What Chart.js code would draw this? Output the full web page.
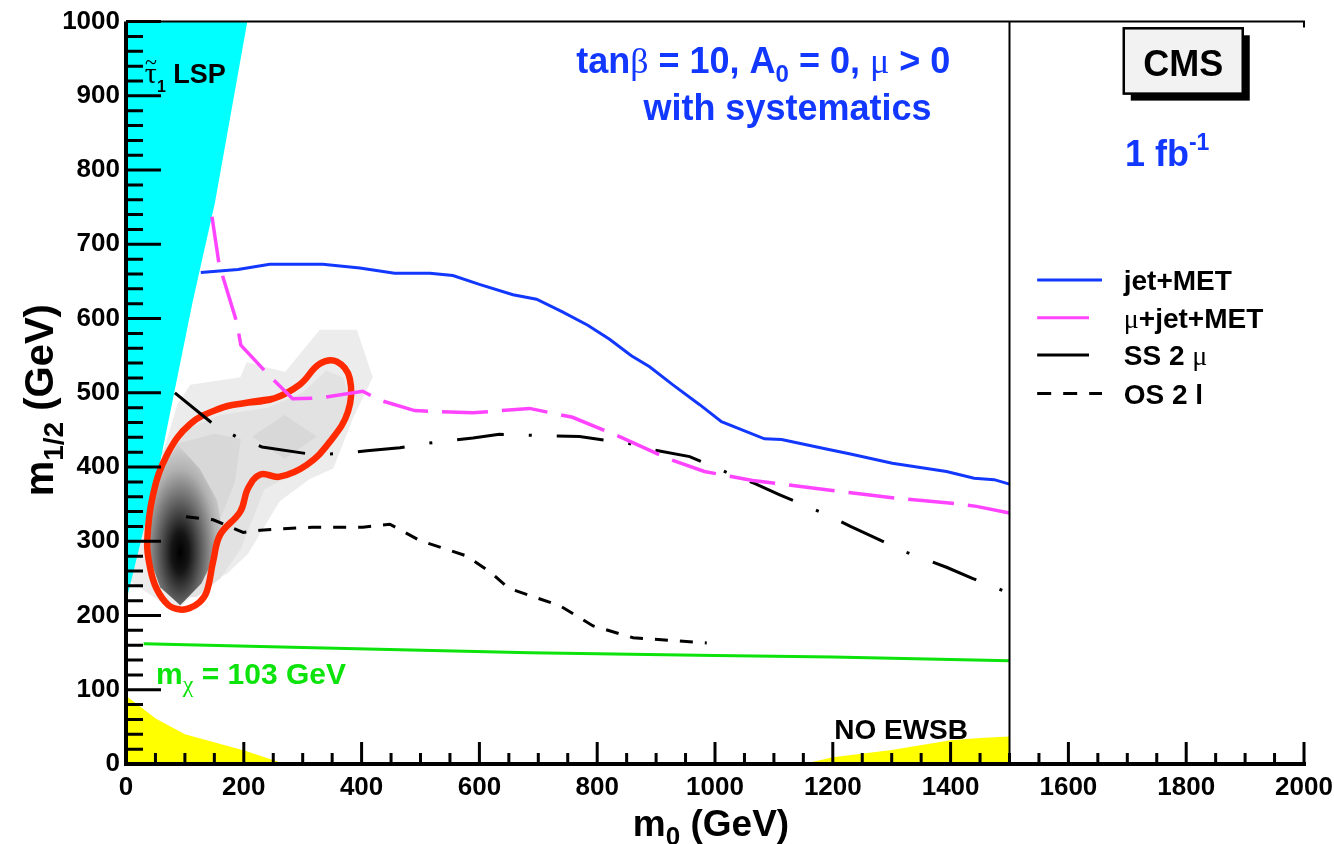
<!DOCTYPE html>
<html>
<head>
<meta charset="utf-8">
<script src="https://cdn.jsdelivr.net/npm/chart.js@4.4.1/dist/chart.umd.min.js"></script>
<style>
    html, body { margin: 0; padding: 0; background: #fff; }
    #contenitore { width: 1334px; height: 844px; }
</style>
</head>
<body>
<div id="contenitore"><canvas id="graficoPiano"></canvas></div>
<script>
// curve di scoperta nel piano (m0, m1/2), coppie [m0, m1/2] in GeV
const jetMet = [[127,662],[190,666],[244,673],[334,673],[397,668],[456,661],[516,661],[555,658],[600,646],[657,632],[697,626],[741,609],[784,591],[821,572],[858,550],[889,535],[928,511],[974,484],[1011,461],[1084,438],[1113,437],[1191,424],[1228,418],[1301,405],[1393,394],[1440,385],[1474,383],[1500,377]];
const muJetMet = [[146,737],[158,673],[188,595],[195,564],[241,525],[283,492],[329,493],[402,502],[431,490],[490,476],[589,473],[685,479],[758,467],[838,441],[918,412],[982,394],[1064,382],[1172,371],[1245,364],[1308,358],[1393,352],[1444,347],[1500,338]];
const ss2mu = [[83,500],[148,458],[187,441],[231,427],[316,417],[361,418],[409,422],[465,426],[494,430],[541,435],[589,439],[634,444],[672,443],[721,442],[770,441],[852,432],[897,423],[957,414],[1025,391],[1067,378],[1109,363],[1189,336],[1230,320],[1274,304],[1318,287],[1350,278],[1393,265],[1437,250],[1500,230]];
const os2l = [[102,333],[148,329],[199,312],[228,315],[316,319],[402,319],[448,323],[499,301],[579,280],[621,257],[649,237],[737,213],[793,186],[861,170],[986,163]];
const limiteChargino = [[30,162],[300,157],[686,150],[1000,146],[1200,144],[1500,139]];

// regioni escluse
const bordoStauLsp = [[0,228],[3,228],[57,403],[113,622],[151,756],[206,1000]];
const bordoGialloSx = [[0,92],[51,61],[100,40],[202,18],[270,0]];
const bordoNoEwsb = [[1150,0],[1200,9],[1300,19],[1400,32],[1450,35],[1500,37]];
const fineScansione = [[1500,0],[1500,1000]];

// contorno del punto di riferimento (chiuso, parte e torna sul lato alto)
const contornoRosso = [[200,486],[250,492],[295,511],[329,539],[358,542],[380,519],[377,475],[346,434],[307,403],[261,387],[228,390],[207,371],[194,340],[160,309],[148,273],[137,232],[125,218],[108,210],[92,208],[72,214],[52,236],[41,264],[36,300],[46,363],[70,417],[109,458],[160,479],[200,486],[250,492]];
const densitaChiara = [[0,250],[87,484],[109,511],[194,521],[205,541],[270,528],[329,585],[392,585],[419,521],[385,465],[352,398],[312,384],[261,354],[207,283],[171,256],[143,246],[110,225],[92,212],[60,218]];
const densitaMedia = [[60,420],[100,450],[160,470],[240,480],[300,500],[340,530],[370,520],[380,480],[360,440],[320,405],[270,385],[235,370],[215,330],[195,290],[160,250],[120,225],[80,225]];
const densitaScura1 = [[214,441],[269,470],[324,441],[269,411]];
const densitaScura2 = [[80,430],[150,445],[195,438],[185,380],[160,330],[140,300]];
const nucleo = [[88,430],[125,398],[155,355],[162,320],[152,282],[128,243],[92,214],[58,238],[38,282],[42,330],[56,392]];
const centroNucleo = [92, 285];

const FONT = '"Liberation Sans", Arial, sans-serif';
const SERIF = '"Liberation Serif", "DejaVu Serif", serif';
const BLU = '#1238ff';
const MAGENTA = '#ff44ff';
const VERDE = '#0be30b';

function grassetto(n) { return 'bold ' + n + 'px ' + FONT; }
function simbolo(n) { return n + 'px ' + SERIF; }

function serie(dati, colore, spessore, tratteggio, ordine) {
    return {
        data: dati,
        showLine: true,
        borderColor: colore,
        borderWidth: spessore,
        borderDash: tratteggio || [],
        pointRadius: 0,
        fill: false,
        tension: 0,
        order: ordine
    };
}

function area(dati, colore, riempi, ordine) {
    return {
        data: dati,
        showLine: true,
        borderWidth: 0,
        borderColor: colore,
        backgroundColor: colore,
        pointRadius: 0,
        fill: riempi,
        order: ordine
    };
}

// testo composto da pezzi con font e spostamento verticale diversi
function scriviRicco(ctx, x, y, pezzi, allinea) {
    let larg = 0;
    pezzi.forEach(p => { ctx.font = p[1]; larg += ctx.measureText(p[0]).width; });
    let cx = allinea === 'center' ? x - larg / 2 : x;
    pezzi.forEach(p => {
        ctx.font = p[1];
        ctx.fillText(p[0], cx, y + (p[2] || 0));
        cx += ctx.measureText(p[0]).width;
    });
    return larg;
}

function poligono(ctx, xs, ys, punti) {
    ctx.beginPath();
    punti.forEach((p, i) => {
        const px = xs.getPixelForValue(p[0]);
        const py = ys.getPixelForValue(p[1]);
        if (i === 0) ctx.moveTo(px, py); else ctx.lineTo(px, py);
    });
    ctx.closePath();
}

const mappaDensita = {
    id: 'mappaDensita',
    beforeDatasetsDraw(chart) {
        const { ctx, chartArea: a, scales: { x, y } } = chart;
        ctx.save();
        ctx.beginPath();
        ctx.rect(a.left, a.top, a.right - a.left, a.bottom - a.top);
        ctx.clip();
        ctx.fillStyle = '#ececec';
        poligono(ctx, x, y, densitaChiara); ctx.fill();
        ctx.fillStyle = '#e2e2e2';
        poligono(ctx, x, y, densitaMedia); ctx.fill();
        ctx.fillStyle = '#d8d8d8';
        poligono(ctx, x, y, densitaScura1); ctx.fill();
        poligono(ctx, x, y, densitaScura2); ctx.fill();

        // nucleo scuro: sfumatura ellittica allungata in verticale
        const cx = x.getPixelForValue(centroNucleo[0]);
        const cy = y.getPixelForValue(centroNucleo[1]);
        poligono(ctx, x, y, nucleo);
        ctx.translate(cx, cy);
        ctx.scale(1, 2.3);
        const sf = ctx.createRadialGradient(0, 0, 0, 0, 0, 48);
        sf.addColorStop(0, '#000000');
        sf.addColorStop(0.18, '#151515');
        sf.addColorStop(0.45, '#606060');
        sf.addColorStop(0.75, '#b0b0b0');
        sf.addColorStop(1, '#d6d6d6');
        ctx.fillStyle = sf;
        ctx.fill();
        ctx.restore();
    }
};

const assiEtichette = {
    id: 'assiEtichette',
    afterDatasetsDraw(chart) {
        const { ctx, chartArea: a, scales: { x, y } } = chart;
        const X = v => x.getPixelForValue(v);
        const Y = v => y.getPixelForValue(v);
        ctx.save();
        ctx.strokeStyle = '#000';
        ctx.lineCap = 'butt';

        // tacche interne
        ctx.lineWidth = 3;
        ctx.beginPath();
        for (let v = 0; v <= 2000; v += 50) {
            const len = v % 200 === 0 ? 22 : 11;
            ctx.moveTo(X(v), a.bottom);
            ctx.lineTo(X(v), a.bottom - len);
        }
        for (let v = 0; v <= 1000; v += 20) {
            const len = v % 100 === 0 ? 35 : 17;
            ctx.moveTo(a.left, Y(v));
            ctx.lineTo(a.left + len, Y(v));
        }
        ctx.stroke();

        // cornice
        ctx.lineWidth = 4;
        ctx.beginPath();
        ctx.moveTo(a.left, a.top);
        ctx.lineTo(a.left, a.bottom);
        ctx.lineTo(a.right + 2, a.bottom);
        ctx.stroke();
        ctx.lineWidth = 2;
        ctx.beginPath();
        ctx.moveTo(a.left, a.top);
        ctx.lineTo(a.right, a.top);
        ctx.lineTo(a.right, a.top + 6);
        ctx.stroke();

        ctx.textBaseline = 'alphabetic';
        ctx.textAlign = 'left';

        // titoli degli assi
        ctx.fillStyle = '#000';
        scriviRicco(ctx, (a.left + a.right) / 2 - 4, a.bottom + 72,
            [['m', grassetto(37)], ['0', grassetto(26), 9], [' (GeV)', grassetto(37)]], 'center');
        ctx.save();
        ctx.translate(a.left - 73, Y(490));
        ctx.rotate(-Math.PI / 2);
        scriviRicco(ctx, 0, 0,
            [['m', grassetto(40)], ['1/2', grassetto(28), 10], [' (GeV)', grassetto(40)]], 'center');
        ctx.restore();

        // parametri del modello
        ctx.fillStyle = BLU;
        scriviRicco(ctx, X(1082), Y(931), [
            ['tan', grassetto(36)], ['\u03B2', simbolo(36)], [' = 10, A', grassetto(36)],
            ['0', grassetto(24), 9], [' = 0, ', grassetto(36)], ['\u03BC', simbolo(36)], [' > 0', grassetto(36)]
        ], 'center');
        scriviRicco(ctx, X(1123), Y(867), [['with systematics', grassetto(36)]], 'center');
        scriviRicco(ctx, X(1696), Y(806), [['1 fb', grassetto(36)], ['-1', grassetto(23), -16]]);

        // riquadro CMS con ombra
        const bx0 = X(1694), bx1 = X(1896), by0 = Y(991), by1 = Y(903);
        ctx.fillStyle = '#000';
        ctx.fillRect(bx0 + 7, by0 + 7, bx1 - bx0, by1 - by0);
        ctx.fillStyle = '#f2f2f2';
        ctx.fillRect(bx0, by0, bx1 - bx0, by1 - by0);
        ctx.lineWidth = 2.5;
        ctx.strokeRect(bx0, by0, bx1 - bx0, by1 - by0);
        ctx.fillStyle = '#000';
        scriviRicco(ctx, (bx0 + bx1) / 2, Y(927), [['CMS', grassetto(36)]], 'center');

        // legenda
        const voci = [
            { y: 652, colore: BLU, fine: 1657, trat: [], testo: [['jet+MET', grassetto(28)]] },
            { y: 601, colore: MAGENTA, fine: 1635, trat: [], testo: [['\u03BC', simbolo(28)], ['+jet+MET', grassetto(28)]] },
            { y: 551, colore: '#000', fine: 1635, trat: [], testo: [['SS 2 ', grassetto(28)], ['\u03BC', simbolo(28)]] },
            { y: 499, colore: '#000', fine: 1657, trat: [14, 12], testo: [['OS 2 l', grassetto(28)]] }
        ];
        voci.forEach(v => {
            ctx.strokeStyle = v.colore;
            ctx.lineWidth = 3;
            ctx.setLineDash(v.trat);
            ctx.beginPath();
            ctx.moveTo(X(1547), Y(v.y));
            ctx.lineTo(X(v.fine), Y(v.y));
            ctx.stroke();
            ctx.setLineDash([]);
            ctx.fillStyle = '#000';
            scriviRicco(ctx, X(1694), Y(v.y) + 10, v.testo);
        });

        // etichette delle regioni
        ctx.fillStyle = '#000';
        const tx = X(32), ty = Y(917);
        ctx.font = simbolo(30);
        const lt = ctx.measureText('\u03C4').width;
        ctx.fillText('\u03C4', tx, ty);
        ctx.font = simbolo(22);
        ctx.textAlign = 'center';
        ctx.fillText('~', tx + lt / 2, ty - 14);
        ctx.textAlign = 'left';
        scriviRicco(ctx, tx + lt, ty, [['1', grassetto(16), 9], [' LSP', grassetto(27)]]);
        scriviRicco(ctx, X(1316), Y(34), [['NO EWSB', grassetto(28)]], 'center');
        ctx.fillStyle = VERDE;
        scriviRicco(ctx, X(51), Y(108), [['m', grassetto(30)], ['\u03C7', simbolo(24), 8], [' = 103 GeV', grassetto(30)]]);
        ctx.restore();
    }
};

const ctx = document.getElementById('graficoPiano').getContext('2d');
new Chart(ctx, {
    type: 'scatter',
    data: {
        datasets: [
            area(bordoStauLsp, '#00ffff', 'end', 20),
            area(bordoGialloSx, '#ffff00', 'origin', 19),
            area(bordoNoEwsb, '#ffff00', 'origin', 18),
            Object.assign(serie(contornoRosso, '#ff2a00', 6.5, null, 15), { tension: 0.4 }),
            serie(limiteChargino, VERDE, 3, null, 10),
            serie(os2l, '#000', 3, [13, 12], 6),
            serie(ss2mu, '#000', 3, [47, 25, 3, 25], 5),
            serie(muJetMet, MAGENTA, 3.5, [46, 14], 4),
            serie(jetMet, BLU, 3, null, 3),
            serie(fineScansione, '#000', 2, null, 1)
        ]
    },
    options: {
        responsive: true,
        maintainAspectRatio: false,
        animation: false,
        layout: { padding: { top: 18, right: 0, left: 0, bottom: 0 } },
        plugins: {
            legend: { display: false },
            tooltip: { enabled: false }
        },
        scales: {
            x: {
                type: 'linear',
                min: 0,
                max: 2000,
                grid: { display: false, drawTicks: false },
                border: { display: false },
                ticks: {
                    stepSize: 200,
                    autoSkip: false,
                    maxRotation: 0,
                    padding: 8,
                    color: '#000',
                    font: { family: FONT, size: 26, weight: 'bold' },
                    callback: v => String(v)
                },
                afterFit(scala) {
                    scala.height = 80;
                    scala.paddingRight = 30;
                }
            },
            y: {
                type: 'linear',
                min: 0,
                max: 1000,
                grid: { display: false, drawTicks: false },
                border: { display: false },
                ticks: {
                    stepSize: 100,
                    autoSkip: false,
                    padding: 6,
                    color: '#000',
                    font: { family: FONT, size: 26, weight: 'bold' },
                    callback: v => String(v)
                },
                afterFit(scala) { scala.width = 126; }
            }
        }
    },
    plugins: [mappaDensita, assiEtichette]
});
</script>
</body>
</html>
